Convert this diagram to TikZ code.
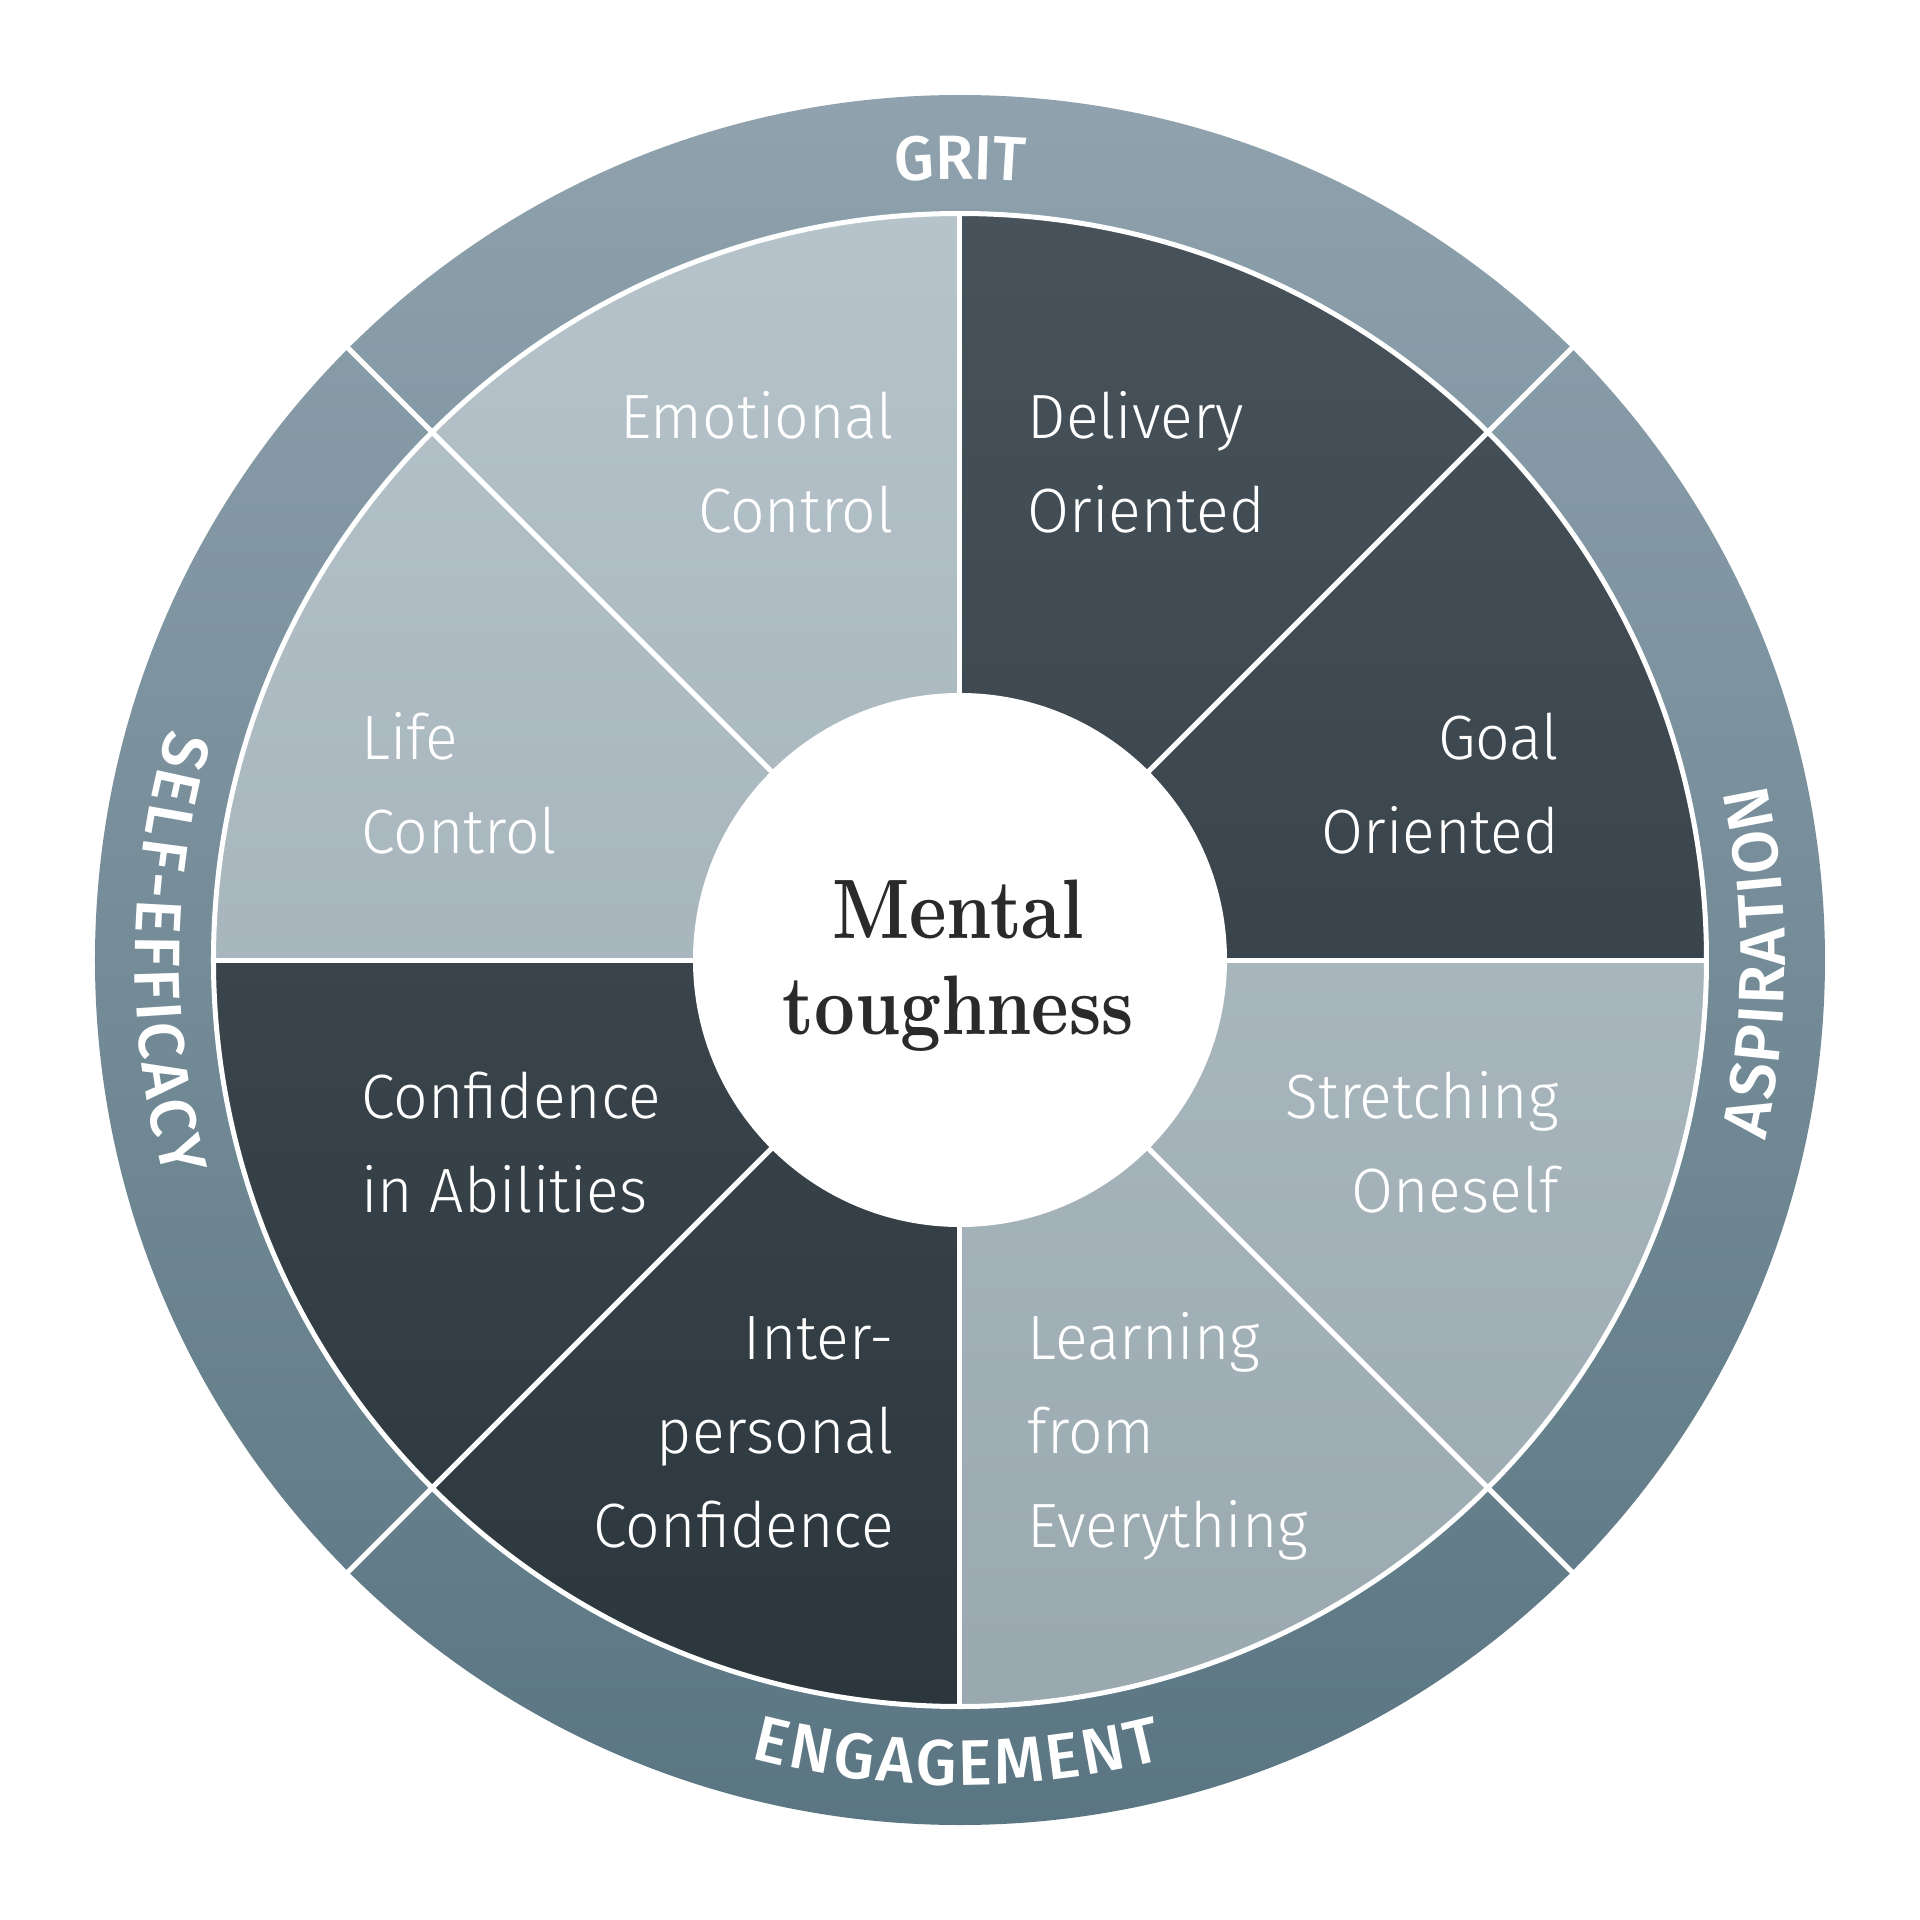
\documentclass[tikz,border=0pt]{standalone}
\usepackage{fontspec}
\usetikzlibrary{decorations.text}
\IfFontExistsTF{Fira Sans Light}{\newfontfamily\lightfont{Fira Sans Light}[FakeStretch=0.97]}{%
  \IfFontExistsTF{FiraSans-Light.otf}{\newfontfamily\lightfont{FiraSans-Light.otf}[FakeStretch=0.97]}{\newfontfamily\lightfont{Fira Sans}}}
\IfFontExistsTF{Fira Sans Medium}{\newfontfamily\ringfont{Fira Sans Medium}}{%
  \IfFontExistsTF{FiraSans-Medium.otf}{\newfontfamily\ringfont{FiraSans-Medium.otf}}{\newfontfamily\ringfont{Fira Sans}}}
\newfontfamily\titlefont{lmroman10-bold.otf}[FakeStretch=0.84]
\definecolor{ringtop}{HTML}{8FA2AE}
\definecolor{ringbot}{HTML}{5A7682}
\definecolor{lighttop}{HTML}{B6C3CB}
\definecolor{lightbot}{HTML}{9AA8AF}
\definecolor{darktop}{HTML}{48525A}
\definecolor{darkbot}{HTML}{2C363D}
\definecolor{titlecol}{HTML}{2A2A2A}
\begin{document}
\begin{tikzpicture}[x=0.01cm,y=0.01cm,
  seplinestyle/.style={white, line width=0.05cm},
  seclabel/.style={font=\lightfont\fontsize{17.8}{26.7}\selectfont, text=white, inner sep=0pt},
  titlestyle/.style={font=\titlefont\fontsize{24}{27.3}\selectfont, text=titlecol, inner sep=0pt, anchor=base},
  ringtext/.style={decorate, decoration={text along path, text align={fit to path},
     text={|\ringfont\fontsize{18.3}{20}\selectfont\color{white}|#1}}},
  ringtextc/.style={decorate, decoration={text along path, text align=center,
     text={|\ringfont\fontsize{17.8}{20}\selectfont\color{white}|#1}}}]
\useasboundingbox (-960,-960) rectangle (960,960);
\fill[white] (-960,-960) rectangle (960,960);
% outer ring
\shade[top color=ringtop, bottom color=ringbot] (0,0) circle (865);
% light sectors
\begin{scope}
  \clip (0,0) -- (90:745) arc[start angle=90, end angle=180, radius=745] -- cycle
        (0,0) -- (270:745) arc[start angle=270, end angle=360, radius=745] -- cycle;
  \shade[top color=lighttop, bottom color=lightbot] (-745,-745) rectangle (745,745);
\end{scope}
% dark sectors
\begin{scope}
  \clip (0,0) -- (0:745) arc[start angle=0, end angle=90, radius=745] -- cycle
        (0,0) -- (180:745) arc[start angle=180, end angle=270, radius=745] -- cycle;
  \shade[top color=darktop, bottom color=darkbot] (-745,-745) rectangle (745,745);
\end{scope}
% separators
\draw[seplinestyle] (0,0) circle (746.5);
\foreach \a in {0,45,...,315} \draw[seplinestyle] (0,0) -- (\a:747);
\foreach \a in {45,135,225,315} \draw[seplinestyle] (\a:745) -- (\a:868);
% centre
\fill[white] (0,0) circle (267);
\node[titlestyle] (title1) at (-2,22) {Mental};
\node[titlestyle] (title2) at (-2,-74) {toughness};
% sector labels
\node[seclabel, anchor=base east] (emo1) at (-65.5,521.5) {Emotional};
\node[seclabel, anchor=base east] (emo2) at (-65.5,427.5) {Control};
\node[seclabel, anchor=base west] (del1) at (67,521.5) {Delivery};
\node[seclabel, anchor=base west] (del2) at (67,427.5) {Oriented};
\node[seclabel, anchor=base west] (life1) at (-599.5,200.5) {Life};
\node[seclabel, anchor=base west] (life2) at (-599.5,106.5) {Control};
\node[seclabel, anchor=base east] (goal1) at (599.5,200.5) {Goal};
\node[seclabel, anchor=base east] (goal2) at (599.5,106.5) {Oriented};
\node[seclabel, anchor=base west] (conf1) at (-599.5,-158.5) {Confidence};
\node[seclabel, anchor=base west] (conf2) at (-599.5,-252.5) {in Abilities};
\node[seclabel, anchor=base east] (str1) at (599.5,-158.5) {Stretching};
\node[seclabel, anchor=base east] (str2) at (599.5,-252.5) {Oneself};
\node[seclabel, anchor=base east] (int1) at (-65.5,-399.5) {Inter-};
\node[seclabel, anchor=base east] (int2) at (-65.5,-493.5) {personal};
\node[seclabel, anchor=base east] (int3) at (-65.5,-587.5) {Confidence};
\node[seclabel, anchor=base west] (lea1) at (67,-399.5) {Learning};
\node[seclabel, anchor=base west] (lea2) at (67,-493.5) {from};
\node[seclabel, anchor=base west] (lea3) at (67,-587.5) {Everything};
% ring labels
\path[ringtextc=GRIT] (130:781) arc[start angle=130, end angle=50, radius=781];
\path[ringtext=ASPIRATION] (-12.6:825) arc[start angle=-12.6, end angle=12.35, radius=825];
\path[ringtext=ENGAGEMENT] (255.3:825) arc[start angle=255.3, end angle=284.3, radius=825];
\path[ringtext=SELF-EFFICACY] (163.7:825) arc[start angle=163.7, end angle=195.3, radius=825];
\end{tikzpicture}
\end{document}
